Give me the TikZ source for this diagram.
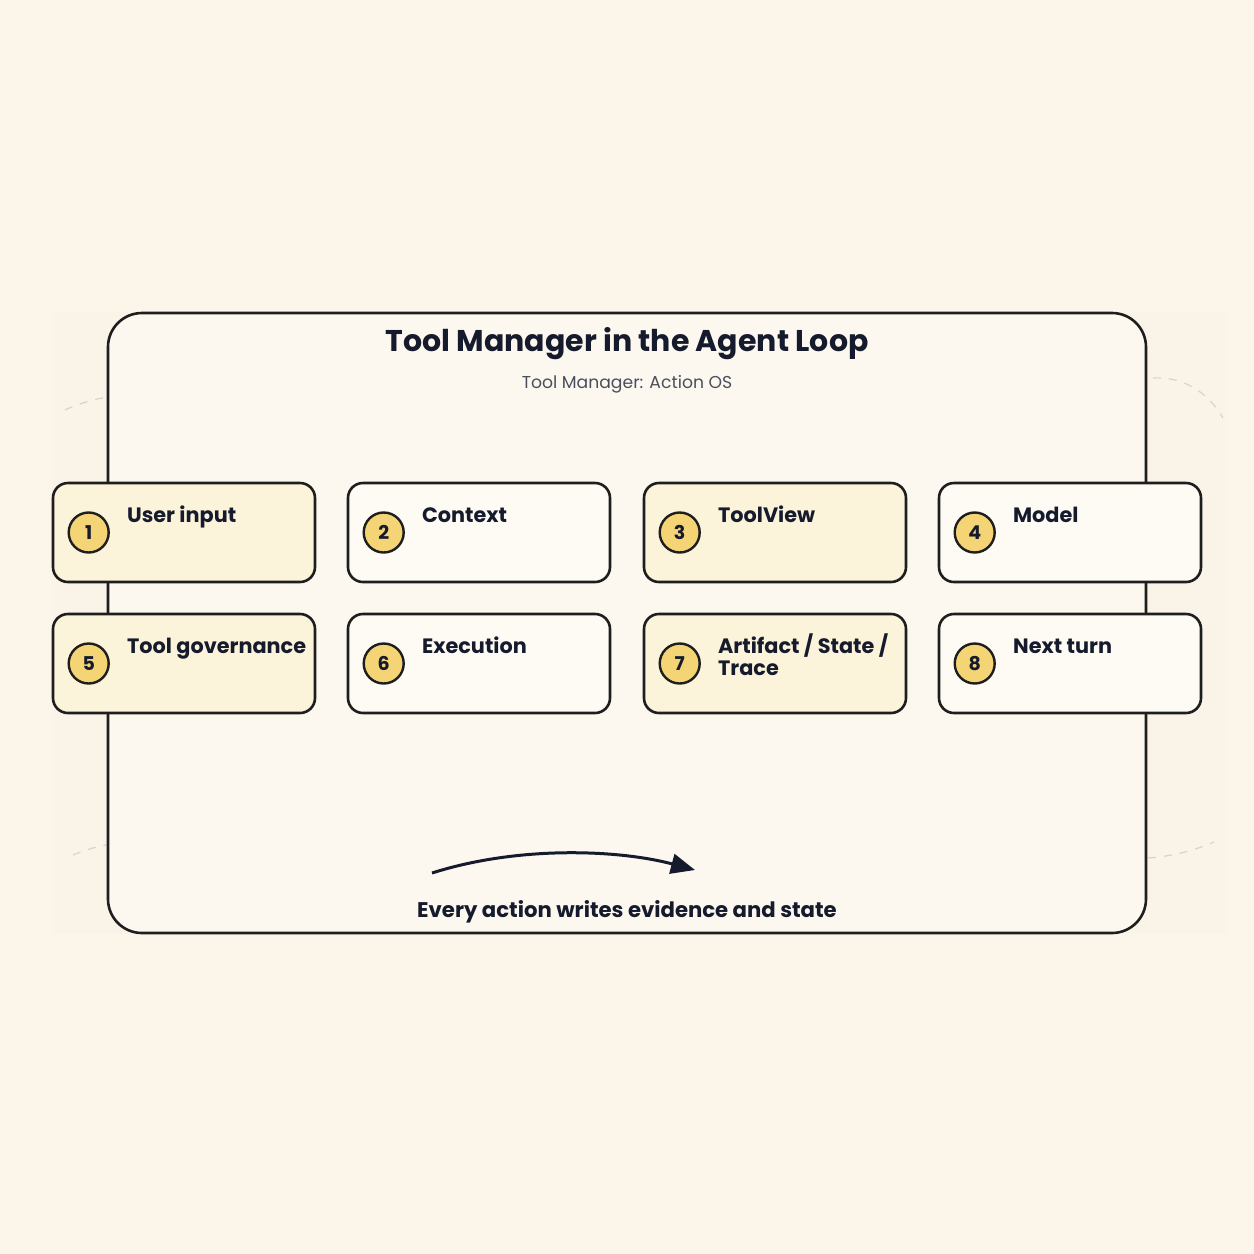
\documentclass[tikz,border=0pt]{standalone}
\usepackage{fontspec}
\setmainfont{Poppins}
\usetikzlibrary{arrows.meta}
\definecolor{bg}{HTML}{FCF5EA}
\definecolor{panel}{HTML}{F9F3E8}
\definecolor{frame}{HTML}{FCF8EF}
\definecolor{ink}{HTML}{151B2C}
\definecolor{edge}{HTML}{1E1E1E}
\definecolor{warm}{HTML}{FCF3DB}
\definecolor{cool}{HTML}{FDFBF4}
\definecolor{badge}{HTML}{F4D474}
\definecolor{sub}{HTML}{4A4F5C}
\definecolor{dash}{HTML}{D8D3CB}
\tikzset{
  stepcard/.style={draw=edge, line width=1.3pt, rounded corners=7.5pt, minimum width=131pt, minimum height=49.5pt, inner sep=0pt},
  warmcard/.style={stepcard, fill=warm},
  coolcard/.style={stepcard, fill=cool},
  numbadge/.style={circle, draw=edge, line width=1.2pt, fill=badge, minimum size=20pt, inner sep=0pt, font=\fontsize{9.5}{9.5}\selectfont\bfseries, text=ink},
  steplabel/.style={anchor=base west, align=left, text=ink, font=\fontsize{10.4}{11.3}\selectfont\bfseries, inner sep=0pt},
  faintdash/.style={draw=dash, line width=0.6pt, dash pattern=on 4pt off 4pt}
}
\begin{document}
\begin{tikzpicture}[x=0.5pt,y=-0.5pt]
\useasboundingbox (0,0) rectangle (1254,1254);
\fill[bg] (0,0) rectangle (1254,1254);
\fill[panel] (52,312) rectangle (1228,934);
% faint dashed arcs
\draw[faintdash] (65,410) .. controls (80,403) and (95,399) .. (108,397);
\draw[faintdash] (1153,378) .. controls (1185,376) and (1210,395) .. (1223,418);
\draw[faintdash] (73,855) .. controls (85,850) and (95,847) .. (106,845);
\draw[faintdash] (1148,858) .. controls (1175,856) and (1195,850) .. (1214,842);
% frame
\node[draw=edge, line width=1.3pt, fill=frame, rounded corners=17pt, minimum width=519pt, minimum height=310pt, inner sep=0pt] (frame) at (627,623) {};
\node[text=ink, font=\fontsize{15}{15}\selectfont\bfseries] (title) at (627,344) {Tool Manager in the Agent Loop};
\node[text=sub, font=\fontsize{8.6}{9}\selectfont] (subtitle) at (627,384) {Tool Manager: Action OS};
% cards
\node[warmcard] (c1) at (184,532.5) {};
\node[coolcard] (c2) at (479,532.5) {};
\node[warmcard] (c3) at (775,532.5) {};
\node[coolcard] (c4) at (1070,532.5) {};
\node[warmcard] (c5) at (184,663.5) {};
\node[coolcard] (c6) at (479,663.5) {};
\node[warmcard] (c7) at (775,663.5) {};
\node[coolcard] (c8) at (1070,663.5) {};
\foreach \i/\t/\dy in {1/User input/0,2/Context/0,3/ToolView/0,4/Model/0,5/Tool governance/0,6/Execution/0,7/{Artifact / State /\\Trace}/11.3,8/Next turn/0}{
  \node[numbadge] (b\i) at ([xshift=18.5pt]c\i.west) {\i};
  \node[steplabel] (l\i) at ([xshift=37.5pt,yshift=5.25pt-\dy pt]c\i.west) {\t};
}
% arrow
\coordinate (as) at (432,873);
\coordinate (ae) at (695,870);
\draw[ink, line width=1.5pt, -{Triangle[length=12pt,width=10pt]}] (as) .. controls (520,845) and (620,850) .. (ae);
\node[text=ink, font=\fontsize{10.6}{11}\selectfont\bfseries] (foot) at (627,912) {Every action writes evidence and state};
\end{tikzpicture}
\end{document}
